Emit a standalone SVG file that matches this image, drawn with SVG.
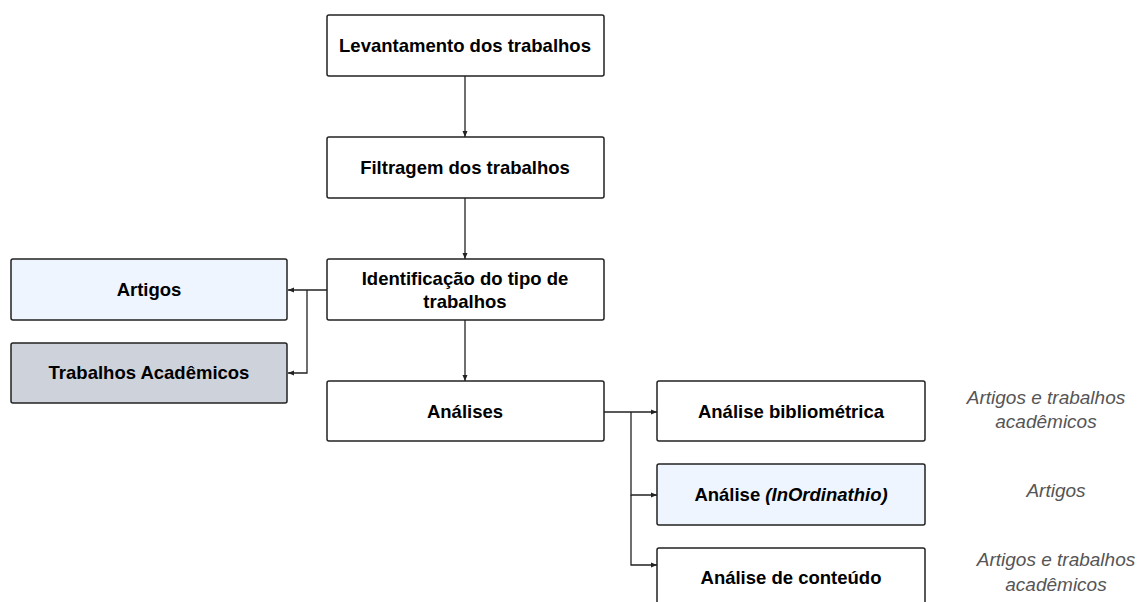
<svg xmlns="http://www.w3.org/2000/svg" width="1141" height="602" viewBox="0 0 1141 602">
<defs>
<style>
.box{stroke:#222;stroke-width:1.5;fill:#fff}
.t{font-family:"Liberation Sans",Arial,sans-serif;font-weight:bold;font-size:18.5px;fill:#000;text-anchor:middle;dominant-baseline:central}
.n{font-family:"Liberation Sans",Arial,sans-serif;font-style:italic;font-size:19px;fill:#555;text-anchor:middle;dominant-baseline:central}
.c{fill:none;stroke:#222;stroke-width:1.3}
</style>
<marker id="ah" markerWidth="8" markerHeight="8" refX="6" refY="3" orient="auto" markerUnits="userSpaceOnUse">
<path d="M0,0.5 L6,3 L0,5.5 Z" fill="#222"/>
</marker>
</defs>
<rect width="1141" height="602" fill="#fff"/>
<g id="connectors">
<path class="c" d="M465,76 V137" marker-end="url(#ah)"/>
<path class="c" d="M465,198 V259" marker-end="url(#ah)"/>
<path class="c" d="M465,320 V381" marker-end="url(#ah)"/>
<path class="c" d="M327,290 H288" marker-end="url(#ah)"/>
<path class="c" d="M307,290 V373 H288" marker-end="url(#ah)"/>
<path class="c" d="M603,412 H657" marker-end="url(#ah)"/>
<path class="c" d="M631,412 V495 H657" marker-end="url(#ah)"/>
<path class="c" d="M631,495 V565 H657" marker-end="url(#ah)"/>
</g>
<g id="n1"><rect class="box" x="327" y="15" width="277" height="61" rx="2"/><text class="t" x="465" y="45">Levantamento dos trabalhos</text></g>
<g id="n2"><rect class="box" x="327" y="137" width="277" height="61" rx="2"/><text class="t" x="465" y="167">Filtragem dos trabalhos</text></g>
<g id="n3"><rect class="box" x="327" y="259" width="277" height="61" rx="2"/><text class="t" x="465" y="278">Identificação do tipo de</text><text class="t" x="465" y="301">trabalhos</text></g>
<g id="n4"><rect class="box" x="327" y="381" width="277" height="60" rx="2"/><text class="t" x="465" y="411">Análises</text></g>
<g id="artigos"><rect class="box" x="11" y="259" width="276" height="61" rx="2" style="fill:#eef5ff"/><text class="t" x="149" y="289">Artigos</text></g>
<g id="academicos"><rect class="box" x="11" y="343" width="276" height="60" rx="2" style="fill:#ced3db"/><text class="t" x="149" y="372">Trabalhos Acadêmicos</text></g>
<g id="biblio"><rect class="box" x="657" y="381" width="268" height="60" rx="2"/><text class="t" x="791" y="411">Análise bibliométrica</text></g>
<g id="inord"><rect class="box" x="657" y="464" width="268" height="61" rx="2" style="fill:#eef5ff"/><text class="t" x="791" y="494">Análise <tspan font-style="italic">(InOrdinathio)</tspan></text></g>
<g id="conteudo"><rect class="box" x="657" y="548" width="268" height="61" rx="2"/><text class="t" x="791" y="577">Análise de conteúdo</text></g>
<g id="notes">
<text class="n" x="1046" y="397">Artigos e trabalhos</text>
<text class="n" x="1046" y="421">acadêmicos</text>
<text class="n" x="1056" y="490">Artigos</text>
<text class="n" x="1056" y="559">Artigos e trabalhos</text>
<text class="n" x="1056" y="584">acadêmicos</text>
</g>
</svg>
